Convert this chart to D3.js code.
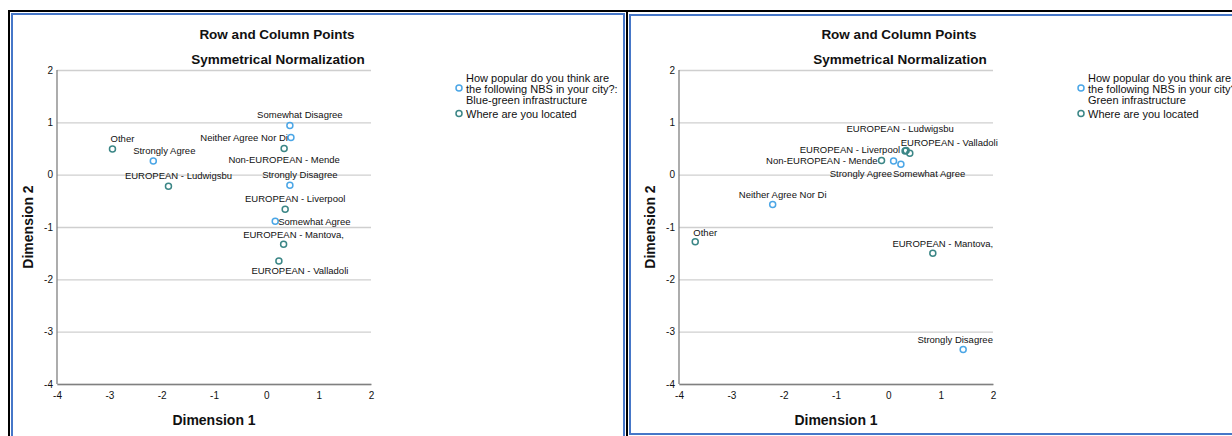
<!DOCTYPE html>
<html>
<head>
<meta charset="utf-8">
<script src="https://cdn.jsdelivr.net/npm/d3@7"></script>
<style>
  body { margin: 0; background: #fff; overflow: hidden; }
  text { font-family: "Liberation Sans", Arial, sans-serif; fill: #111; }
</style>
</head>
<body>
<script>
const width = 1232, height = 436;

// axis ticks
const xTicks = [-4, -3, -2, -1, 0, 1, 2];
const yTicks = [2, 1, 0, -1, -2, -3, -4];

// column points: "Where are you located"
const locations = ["Other", "Non-EUROPEAN - Mende", "EUROPEAN - Ludwigsbu",
  "EUROPEAN - Liverpool", "EUROPEAN - Mantova,", "EUROPEAN - Valladoli"];

// left chart: Blue-green infrastructure
const leftRowNames = ["Somewhat Disagree", "Neither Agree Nor Di", "Strongly Agree",
  "Strongly Disagree", "Somewhat Agree"];
const leftRowDim1 = [0.45, 0.47, -2.16, 0.45, 0.17];
const leftRowDim2 = [0.94, 0.71, 0.26, -0.20, -0.89];
const leftColDim1 = [-2.94, 0.34, -1.87, 0.36, 0.33, 0.24];
const leftColDim2 = [0.49, 0.50, -0.22, -0.66, -1.33, -1.65];

// right chart: Green infrastructure
const rightRowNames = ["Neither Agree Nor Di", "Strongly Agree", "Somewhat Agree",
  "Strongly Disagree"];
const rightRowDim1 = [-2.21, 0.10, 0.24, 1.43];
const rightRowDim2 = [-0.57, 0.26, 0.20, -3.34];
const rightColDim1 = [-3.69, -0.13, 0.34, 0.32, 0.85, 0.41];
const rightColDim2 = [-1.28, 0.27, 0.46, 0.45, -1.50, 0.41];

const blue = "#4ba6e6", teal = "#3b8686";

// label placement [anchor, dx, dy], roughly how SPSS spread them out
const leftLabels = {
  "Somewhat Disagree": ["middle", 10, -7],
  "Neither Agree Nor Di": ["end", -3, 3.5],
  "Strongly Agree": ["middle", 11, -7],
  "Strongly Disagree": ["middle", 10, -7],
  "Somewhat Agree": ["start", 3, 3.5],
  "Other": ["middle", 10, -7],
  "Non-EUROPEAN - Mende": ["middle", 0, 14],
  "EUROPEAN - Ludwigsbu": ["middle", 10, -7],
  "EUROPEAN - Liverpool": ["middle", 10, -7],
  "EUROPEAN - Mantova,": ["middle", 10, -6.5],
  "EUROPEAN - Valladoli": ["middle", 21, 13]
};
const rightLabels = {
  "Neither Agree Nor Di": ["middle", 10, -6],
  "Strongly Agree": ["end", -1.5, 16],
  "Somewhat Agree": ["start", -8, 13],
  "Strongly Disagree": ["middle", -8, -6],
  "Other": ["middle", 10, -6],
  "Non-EUROPEAN - Mende": ["end", -4, 3.5],
  "EUROPEAN - Ludwigsbu": ["middle", -6, -18.5],
  "EUROPEAN - Liverpool": ["end", -5, 2],
  "EUROPEAN - Mantova,": ["middle", 10, -6],
  "EUROPEAN - Valladoli": ["start", -9, -7]
};

const svg = d3.select("body").append("svg")
  .attr("width", width)
  .attr("height", height);

// frames
svg.append("line").attr("x1", 8).attr("x2", width).attr("y1", 11).attr("y2", 11)
  .attr("stroke", "#000").attr("stroke-width", 2);
svg.append("line").attr("x1", 9).attr("x2", 9).attr("y1", 10).attr("y2", height)
  .attr("stroke", "#000").attr("stroke-width", 2);
svg.append("line").attr("x1", 627).attr("x2", 627).attr("y1", 10).attr("y2", height)
  .attr("stroke", "#000").attr("stroke-width", 2);
svg.append("path")
  .attr("d", "M12," + height + "V14H624V" + height)
  .attr("fill", "none").attr("stroke", "#4677c8").attr("stroke-width", 2);
svg.append("path")
  .attr("d", "M" + width + ",434H630V15H" + width)
  .attr("fill", "none").attr("stroke", "#4677c8").attr("stroke-width", 2);

function drawPanel(offsetX, legendTitle, rowNames, rowD1, rowD2, colD1, colD2, labels) {
  const g = svg.append("g").attr("transform", "translate(" + offsetX + ",0)");

  const x = d3.scaleLinear().domain([-4, 2]).range([57, 371]);
  const y = d3.scaleLinear().domain([-4, 2]).range([384, 70]);

  g.append("text").attr("x", 277).attr("y", 39)
    .attr("text-anchor", "middle").style("font-size", "13.5px").style("font-weight", "bold")
    .text("Row and Column Points");
  g.append("text").attr("x", 278).attr("y", 64)
    .attr("text-anchor", "middle").style("font-size", "13.5px").style("font-weight", "bold")
    .text("Symmetrical Normalization");

  // y axis with gridlines
  const yAxis = g.append("g")
    .attr("transform", "translate(57,0)")
    .call(d3.axisLeft(y).tickValues(yTicks).tickFormat(d => String(d))
      .tickSize(-(371 - 57)).tickPadding(4));
  yAxis.selectAll(".tick line").attr("stroke", "#cfcfcf").attr("stroke-width", 1.3);
  yAxis.select(".domain").remove();
  yAxis.selectAll("text").style("font-size", "10px").style("font-family", "Liberation Sans, Arial").attr("fill", "#222");

  g.append("line").attr("x1", 57).attr("x2", 57).attr("y1", 70).attr("y2", 384)
    .attr("stroke", "#808080").attr("stroke-width", 1.3);

  const xAxis = g.append("g")
    .attr("transform", "translate(0,384)")
    .call(d3.axisBottom(x).tickValues(xTicks).tickFormat(d => String(d))
      .tickSize(0).tickPadding(7.5));
  xAxis.select(".domain").attr("stroke", "#808080").attr("stroke-width", 1.3);
  xAxis.selectAll("text").style("font-size", "10px").style("font-family", "Liberation Sans, Arial").attr("fill", "#222");

  g.append("text").attr("x", 214).attr("y", 425)
    .attr("text-anchor", "middle").style("font-size", "14px").style("font-weight", "bold")
    .text("Dimension 1");
  g.append("text").attr("transform", "translate(33,227) rotate(-90)")
    .attr("text-anchor", "middle").style("font-size", "14px").style("font-weight", "bold")
    .text("Dimension 2");

  const rows = rowNames.map((n, i) => ({ name: n, d1: rowD1[i], d2: rowD2[i], color: blue }));
  const cols = locations.map((n, i) => ({ name: n, d1: colD1[i], d2: colD2[i], color: teal }));
  const pts = rows.concat(cols);

  g.selectAll(".pt").data(pts).enter().append("circle")
    .attr("class", "pt")
    .attr("cx", d => x(d.d1)).attr("cy", d => y(d.d2)).attr("r", 3)
    .attr("fill", "none").attr("stroke", d => d.color).attr("stroke-width", 1.5);

  g.selectAll(".lbl").data(pts).enter().append("text")
    .attr("class", "lbl")
    .attr("x", d => x(d.d1) + labels[d.name][1])
    .attr("y", d => y(d.d2) + labels[d.name][2])
    .attr("text-anchor", d => labels[d.name][0])
    .style("font-size", "9.5px")
    .text(d => d.name);

  // legend
  const lg = g.append("g").attr("transform", "translate(459,0)");
  lg.append("circle").attr("cx", 0).attr("cy", 88).attr("r", 3)
    .attr("fill", "none").attr("stroke", blue).attr("stroke-width", 1.5);
  lg.append("circle").attr("cx", 0).attr("cy", 113.5).attr("r", 3)
    .attr("fill", "none").attr("stroke", teal).attr("stroke-width", 1.5);
  const legLines = ["How popular do you think are", "the following NBS in your city?:", legendTitle];
  lg.selectAll(".ll").data(legLines).enter().append("text")
    .attr("x", 7).attr("y", (d, i) => 82 + i * 11.2)
    .style("font-size", "11px").text(d => d);
  lg.append("text").attr("x", 7).attr("y", 117.5).style("font-size", "11px")
    .text("Where are you located");
}

drawPanel(0, "Blue-green infrastructure", leftRowNames, leftRowDim1, leftRowDim2,
  leftColDim1, leftColDim2, leftLabels);
drawPanel(622, "Green infrastructure", rightRowNames, rightRowDim1, rightRowDim2,
  rightColDim1, rightColDim2, rightLabels);
</script>
</body>
</html>
